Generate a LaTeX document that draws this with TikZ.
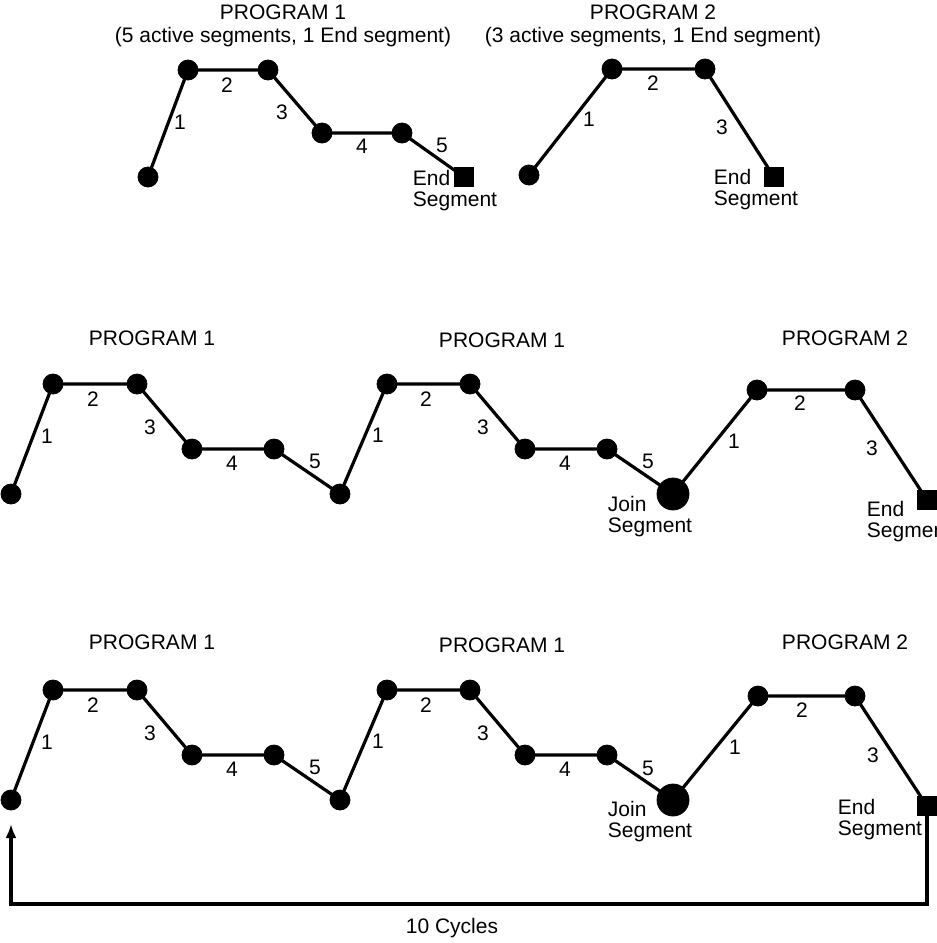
\documentclass[tikz,border=0pt]{standalone}
\usepackage{fontspec}
\setmainfont{Liberation Sans}
\usetikzlibrary{arrows.meta}
\tikzset{
  pt/.style={draw,fill,inner sep=0pt,outer sep=0pt,circle,minimum size=10pt},
  joinpt/.style={draw,fill,inner sep=0pt,outer sep=0pt,circle,minimum size=16pt},
  endpt/.style={draw,fill,inner sep=0pt,outer sep=0pt,rectangle,minimum size=9.5pt},
  seg/.style={line width=1.6pt},
  num/.style={inner sep=0pt,font=\fontsize{10.5}{11}\selectfont},
  txt/.style={inner sep=0pt,align=left,font=\fontsize{10.5}{10.5}\selectfont},
  ttl/.style={inner sep=0pt,align=center,font=\fontsize{10.5}{11.5}\selectfont}
}
\begin{document}
\begin{tikzpicture}[x=0.5pt,y=-0.5pt]
\useasboundingbox (0,0) rectangle (937,943);

% top: program 1
\node[ttl] (T1) at (283,26) {PROGRAM 1\\(5 active segments, 1 End segment)};
\draw (148,177) node[pt] (P0) {};
\draw (188,70) node[pt] (P1) {};
\draw (268,70) node[pt] (P2) {};
\draw (322,133) node[pt] (P3) {};
\draw (402,133) node[pt] (P4) {};
\draw (464,177) node[endpt] (PE) {};
\draw[seg] (P0) -- (P1) -- (P2) -- (P3) -- (P4) -- (PE);
\node[num] (p1) at (180,122) {1};
\node[num] (p2) at (227,85) {2};
\node[num] (p3) at (282,112) {3};
\node[num] (p4) at (362,146) {4};
\node[num] (p5) at (442,145) {5};
\node[txt] (PEt) at (455,191) {End\\Segment};

% top: program 2
\node[ttl] (T2) at (653,26) {PROGRAM 2\\(3 active segments, 1 End segment)};
\draw (529,175) node[pt] (Q0) {};
\draw (612,69) node[pt] (Q1) {};
\draw (705,69) node[pt] (Q2) {};
\draw (774,177) node[endpt] (QE) {};
\draw[seg] (Q0) -- (Q1) -- (Q2) -- (QE);
\node[num] (q1) at (589,119) {1};
\node[num] (q2) at (653,83) {2};
\node[num] (q3) at (722,127) {3};
\node[txt] (QEt) at (756,190) {End\\Segment};

% middle row
\node[ttl] (M1) at (152,338) {PROGRAM 1};
\node[ttl] (M2) at (502,340) {PROGRAM 1};
\node[ttl] (M3) at (845,338) {PROGRAM 2};
\draw (11,494) node[pt] (A0) {};
\draw (53,384) node[pt] (A1) {};
\draw (137,384) node[pt] (A2) {};
\draw (192,449) node[pt] (A3) {};
\draw (274,449) node[pt] (A4) {};
\draw (340,494) node[pt] (A5) {};
\draw (387,384) node[pt] (A6) {};
\draw (470,384) node[pt] (A7) {};
\draw (525,449) node[pt] (A8) {};
\draw (607,449) node[pt] (A9) {};
\draw (673,494) node[joinpt] (AJ) {};
\draw (757,390) node[pt] (B1) {};
\draw (855,390) node[pt] (B2) {};
\draw (927,500) node[endpt] (AE) {};
\draw[seg] (A0) -- (A1) -- (A2) -- (A3) -- (A4) -- (A5) -- (A6) -- (A7) -- (A8) -- (A9) -- (AJ) -- (B1) -- (B2) -- (AE);
\node[num] (a1) at (47,436) {1};
\node[num] (a2) at (93,399) {2};
\node[num] (a3) at (150,427) {3};
\node[num] (a4) at (232,463) {4};
\node[num] (a5) at (315,461) {5};
\node[num] (a6) at (378,435) {1};
\node[num] (a7) at (426,399) {2};
\node[num] (a8) at (483,427) {3};
\node[num] (a9) at (565,463) {4};
\node[num] (a10) at (648,461) {5};
\node[num] (b1) at (734,441) {1};
\node[num] (b2) at (800,403) {2};
\node[num] (b3) at (872,448) {3};
\node[txt] (AJt) at (650,517) {Join\\Segment};
\node[txt] (AEt) at (909,522) {End\\Segment};

% bottom row
\node[ttl] (N1) at (152,642) {PROGRAM 1};
\node[ttl] (N2) at (502,645) {PROGRAM 1};
\node[ttl] (N3) at (845,642) {PROGRAM 2};
\draw (11,800) node[pt] (C0) {};
\draw (53,690) node[pt] (C1) {};
\draw (137,690) node[pt] (C2) {};
\draw (192,755) node[pt] (C3) {};
\draw (274,755) node[pt] (C4) {};
\draw (340,800) node[pt] (C5) {};
\draw (387,690) node[pt] (C6) {};
\draw (470,690) node[pt] (C7) {};
\draw (525,755) node[pt] (C8) {};
\draw (607,755) node[pt] (C9) {};
\draw (673,800) node[joinpt] (CJ) {};
\draw (758,696) node[pt] (D1) {};
\draw (855,696) node[pt] (D2) {};
\draw (927,806) node[endpt] (CE) {};
\draw[seg] (C0) -- (C1) -- (C2) -- (C3) -- (C4) -- (C5) -- (C6) -- (C7) -- (C8) -- (C9) -- (CJ) -- (D1) -- (D2) -- (CE);
\node[num] (c1) at (47,742) {1};
\node[num] (c2) at (93,705) {2};
\node[num] (c3) at (150,733) {3};
\node[num] (c4) at (232,769) {4};
\node[num] (c5) at (315,767) {5};
\node[num] (c6) at (378,741) {1};
\node[num] (c7) at (426,705) {2};
\node[num] (c8) at (483,733) {3};
\node[num] (c9) at (565,769) {4};
\node[num] (c10) at (648,768) {5};
\node[num] (d1) at (735,747) {1};
\node[num] (d2) at (802,710) {2};
\node[num] (d3) at (873,755) {3};
\node[txt] (CJt) at (650,822) {Join\\Segment};
\node[txt] (CEt) at (880,820) {End\\Segment};

% loop back
\coordinate (LR) at (927,904);
\coordinate (LL) at (11,904);
\draw[seg,-{Latex[length=7pt,width=5.5pt]},shorten >=7pt] (CE) -- (LR) -- (LL) -- (C0);
\node[num] (cyc) at (452,928) {10 Cycles};

\end{tikzpicture}
\end{document}
